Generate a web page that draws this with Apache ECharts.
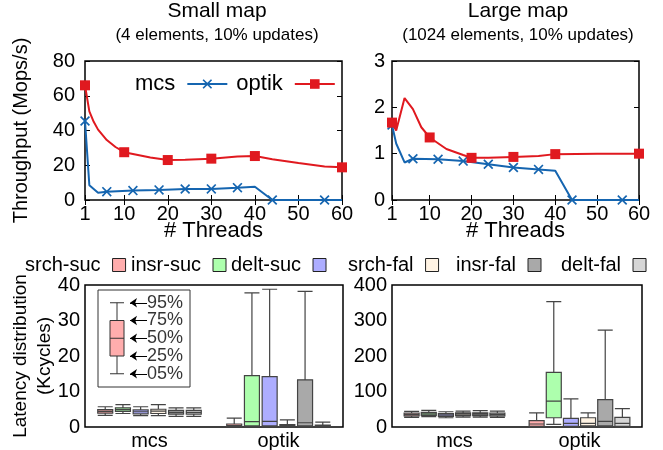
<!DOCTYPE html>
<html>
<head>
<meta charset="utf-8">
<script src="https://cdn.jsdelivr.net/npm/echarts@6/dist/echarts.min.js"></script>
<style>
  html, body { margin: 0; padding: 0; background: #fff; }
  #chart { width: 663px; height: 450px; }
</style>
</head>
<body>
<div id="chart"></div>
<script>
// throughput, small map (4 elements)
const smallMcsThreads = [1, 2, 4, 6, 12, 18, 24, 30, 36, 40, 44, 56, 60]
const smallMcs = [45.5, 8.5, 4.2, 4.8, 5.4, 5.8, 6.3, 6.4, 7.1, 7.6, 0, 0, 0]
const smallOptikThreads = [1, 2, 3, 4, 6, 8, 10, 12, 16, 20, 24, 30, 36, 40, 44, 50, 56, 60]
const smallOptik = [66, 51, 45, 40.5, 34.5, 30.5, 27.5, 26.5, 24.5, 23, 23.2, 23.8, 25, 25.3, 23.5, 21.3, 19.3, 18.8]

// throughput, large map (1024 elements)
const largeMcsThreads = [1, 2, 4, 6, 12, 18, 24, 30, 36, 40, 44, 56, 60]
const largeMcs = [1.62, 1.22, 0.81, 0.89, 0.88, 0.84, 0.77, 0.70, 0.66, 0.63, 0, 0, 0]
const largeOptikThreads = [1, 2, 4, 6, 8, 10, 14, 18, 20, 24, 30, 36, 40, 50, 60]
const largeOptik = [1.67, 1.5, 2.2, 1.96, 1.57, 1.35, 1.1, 0.97, 0.91, 0.91, 0.93, 0.95, 0.99, 1.0, 1.0]

// thread counts that carry a point marker
const mcsMarks = [1, 6, 12, 18, 24, 30, 36, 44, 56]
const optikMarks = [1, 10, 20, 30, 40, 60]
const threadTicks = [1, 10, 20, 30, 40, 50, 60]

// latency boxes [5%, 25%, 50%, 75%, 95%] in Kcycles, one row per lock (mcs, optik)
const locks = ['mcs', 'optik']
const ops = ['srch-suc', 'insr-suc', 'delt-suc', 'srch-fal', 'insr-fal', 'delt-fal']

const smallSrchSuc = [[3.3, 3.9, 4.4, 4.9, 5.7], [0, 0.1, 0.4, 0.85, 2.5]]
const smallInsrSuc = [[3.8, 4.4, 4.9, 5.4, 6.3], [0, 0.3, 1.5, 14.5, 37.8]]
const smallDeltSuc = [[3.2, 3.7, 4.3, 4.8, 5.7], [0, 0.3, 1.6, 14.2, 38.8]]
const smallSrchFal = [[3.2, 3.8, 4.5, 5.0, 6.3], [0, 0.1, 0.3, 0.65, 2.0]]
const smallInsrFal = [[3.0, 3.6, 4.1, 4.7, 5.4], [0, 0.3, 1.2, 13.3, 38.2]]
const smallDeltFal = [[3.0, 3.6, 4.1, 4.7, 5.4], [0, 0.1, 0.2, 0.55, 1.4]]

const largeSrchSuc = [[27, 31, 35, 39, 44], [0, 2, 8.5, 18, 40]]
const largeInsrSuc = [[29, 33, 37, 41, 47], [7.5, 26, 73, 154, 353]]
const largeDeltSuc = [[26, 30, 34, 38, 43], [0, 2, 10, 24.5, 79]]
const largeSrchFal = [[28, 32, 36, 40, 45], [0, 3, 10, 26, 40]]
const largeInsrFal = [[28, 32, 36, 40, 46], [0, 3, 16, 77, 273]]
const largeDeltFal = [[27, 31, 35, 39, 45], [0, 2, 10, 27, 52]]

// explanatory box in the small-map latency panel
const keyBox = [15, 20, 25, 30, 35]
const keyLabels = ['05%', '25%', '50%', '75%', '95%']

const opColors = ['#ffadad', '#adffad', '#adadff', '#fff3e3', '#a9a9a9', '#d6d6d6']
const BLUE = '#1565b0'
const RED = '#e0191f'
const FONT = '"Liberation Sans", Arial, Helvetica, sans-serif'
const CROSS = 'path://M0,1.2L1.2,0L5,3.8L8.8,0L10,1.2L6.2,5L10,8.8L8.8,10L5,6.2L1.2,10L0,8.8L3.8,5Z'

let chart = echarts.init(document.getElementById('chart'))

function frame(left, top, width, height) {
    return { left, top, width, height, show: true, borderColor: '#000', borderWidth: 1.5, backgroundColor: 'transparent', outerBoundsMode: 'none' }
}

const tickStyle = { inside: true, length: 5, lineStyle: { color: '#000', width: 1 } }

function threadAxis(gridIndex, mirror) {
    return {
        gridIndex, type: 'value', min: 1, max: 60,
        position: mirror ? 'top' : 'bottom',
        axisLine: { show: false },
        axisTick: Object.assign({ customValues: threadTicks }, tickStyle),
        axisLabel: { show: !mirror, customValues: threadTicks, fontSize: 20, color: '#000', margin: 4 },
        splitLine: { show: false },
        name: mirror ? '' : '# Threads',
        nameLocation: 'middle', nameGap: 20, nameMoveOverlap: false,
        nameTextStyle: { fontSize: 22, color: '#000' },
    }
}

function valAxis(gridIndex, max, interval, mirror, margin, name, nameGap, nameSize) {
    return {
        gridIndex, type: 'value', min: 0, max, interval,
        position: mirror ? 'right' : 'left',
        axisLine: { show: false },
        axisTick: tickStyle,
        axisLabel: { show: !mirror, fontSize: 20, color: '#000', margin },
        splitLine: { show: false },
        name: name || '', nameLocation: 'middle', nameGap: nameGap || 0, nameMoveOverlap: false,
        nameTextStyle: { fontSize: nameSize || 20, color: '#000', lineHeight: 24 },
    }
}

function lockAxis(gridIndex) {
    return {
        gridIndex, type: 'category', data: locks,
        axisLine: { show: false }, axisTick: { show: false },
        axisLabel: { fontSize: 20, color: '#000', margin: 4 },
        splitLine: { show: false },
    }
}

function lineSeries(name, threads, vals, marks, xAxisIndex, yAxisIndex, color, symbol, size) {
    return {
        name, type: 'line', xAxisIndex, yAxisIndex,
        symbol, symbolSize: size, showSymbol: true,
        itemStyle: { color },
        lineStyle: { color, width: 2 },
        emphasis: { disabled: true },
        z: name === 'optik' ? 4 : 3,
        data: threads.map((t, i) => ({
            value: [t, vals[i]],
            symbol: marks.includes(t) ? symbol : 'none',
        })),
    }
}

function boxSeries(rows, xAxisIndex, yAxisIndex) {
    return rows.map((row, i) => ({
        name: ops[i], type: 'boxplot', xAxisIndex, yAxisIndex,
        boxWidth: [15, 15],
        itemStyle: { color: opColors[i], borderColor: '#444', borderWidth: 1.2 },
        emphasis: { disabled: true },
        data: row,
    }))
}

const legendLefts = [20, 126, 226, 343, 451, 556]

let option = {
    animation: false,
    textStyle: { fontFamily: FONT },
    title: [
        {
            text: 'Small map', subtext: '(4 elements, 10% updates)',
            left: 217, top: 0, textAlign: 'center', padding: [1, 0], itemGap: 5,
            textStyle: { fontSize: 21, fontWeight: 'normal', color: '#000' },
            subtextStyle: { fontSize: 17, color: '#000' },
        },
        {
            text: 'Large map', subtext: '(1024 elements, 10% updates)',
            left: 518, top: 0, textAlign: 'center', padding: [1, 0], itemGap: 5,
            textStyle: { fontSize: 21, fontWeight: 'normal', color: '#000' },
            subtextStyle: { fontSize: 17, color: '#000' },
        },
    ],
    legend: [
        {
            left: 130, top: 68, align: 'right', selectedMode: false,
            itemWidth: 40, itemHeight: 12, itemGap: 8,
            data: ['mcs', 'optik'],
            textStyle: { fontSize: 22, color: '#000', padding: [0, 7, 0, 0] },
        },
    ].concat(ops.map((op, i) => ({
        left: legendLefts[i], top: 250, align: 'right', selectedMode: false,
        icon: 'rect', itemWidth: 13, itemHeight: 13,
        data: [{ name: op, itemStyle: { color: opColors[i], borderColor: '#222', borderWidth: 1 } }],
        textStyle: { fontSize: 20, color: '#000', padding: [0, 7, 0, 0] },
    }))),
    grid: [
        frame(85, 61, 257, 139),
        frame(392, 61, 247, 139),
        frame(85, 285, 258, 142),
        frame(392, 285, 250, 142),
        { left: 98, top: 285, width: 92, height: 142, show: false, outerBoundsMode: 'none' },
    ],
    xAxis: [
        threadAxis(0, false),
        threadAxis(0, true),
        threadAxis(1, false),
        threadAxis(1, true),
        lockAxis(2),
        lockAxis(3),
        { gridIndex: 4, type: 'value', min: 0, max: 92, show: false },
    ],
    yAxis: [
        valAxis(0, 80, 20, false, 10, 'Throughput (Mops/s)', 52),
        valAxis(0, 80, 20, true, 0),
        valAxis(1, 3, 1, false, 7),
        valAxis(1, 3, 1, true, 0),
        valAxis(2, 40, 10, false, 5, 'Latency distribution\n(Kcycles)', 28, 19),
        valAxis(2, 40, 10, true, 0),
        valAxis(3, 400, 100, false, 5),
        valAxis(3, 400, 100, true, 0),
        { gridIndex: 4, type: 'value', min: 0, max: 40, show: false },
    ],
    graphic: [
        { type: 'rect', shape: { x: 98, y: 290, width: 92, height: 97 }, style: { fill: 'none', stroke: '#333', lineWidth: 1 } },
    ],
    series: [
        lineSeries('mcs', smallMcsThreads, smallMcs, mcsMarks, 0, 0, BLUE, CROSS, 10),
        lineSeries('optik', smallOptikThreads, smallOptik, optikMarks, 0, 0, RED, 'rect', 10),
        lineSeries('mcs', largeMcsThreads, largeMcs, mcsMarks, 2, 2, BLUE, CROSS, 10),
        lineSeries('optik', largeOptikThreads, largeOptik, optikMarks, 2, 2, RED, 'rect', 10),
    ]
        .concat(boxSeries([smallSrchSuc, smallInsrSuc, smallDeltSuc, smallSrchFal, smallInsrFal, smallDeltFal], 4, 4))
        .concat(boxSeries([largeSrchSuc, largeInsrSuc, largeDeltSuc, largeSrchFal, largeInsrFal, largeDeltFal], 5, 6))
        .concat([
            {
                name: 'key', type: 'boxplot', xAxisIndex: 6, yAxisIndex: 8,
                boxWidth: [14, 14],
                itemStyle: { color: opColors[0], borderColor: '#333', borderWidth: 1 },
                emphasis: { disabled: true },
                data: [[19].concat(keyBox)],
            },
            {
                name: 'key-arrows', type: 'lines', coordinateSystem: 'cartesian2d', xAxisIndex: 6, yAxisIndex: 8,
                symbol: ['none', 'arrow'], symbolSize: 7,
                lineStyle: { color: '#000', width: 1.2, opacity: 1 },
                data: keyBox.map(v => ({ coords: [[49, v], [32, v]] })),
            },
            {
                name: 'key-labels', type: 'scatter', xAxisIndex: 6, yAxisIndex: 8,
                symbolSize: 0,
                label: { show: true, position: 'right', distance: 0, fontSize: 18, color: '#000', formatter: p => p.value[2] },
                data: keyBox.map((v, i) => [49, v, keyLabels[i]]),
            },
        ]),
}

chart.setOption(option)
window.addEventListener('resize', () => {
    chart.resize()
})
</script>
</body>
</html>
